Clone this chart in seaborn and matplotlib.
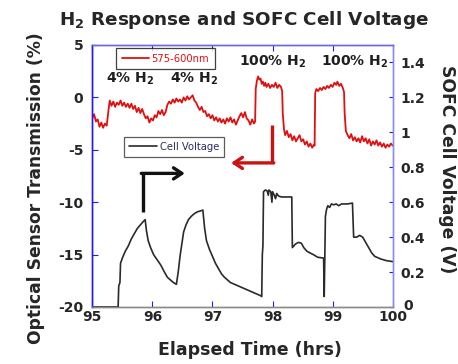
import numpy as np
import pandas as pd
import matplotlib
matplotlib.use("Agg")
import matplotlib.pyplot as plt
import matplotlib.transforms as mtransforms
import seaborn as sns
from matplotlib.lines import Line2D

# ---------------- data ----------------
red_time = [95.00, 95.03, 95.06, 95.09, 95.12, 95.15, 95.18, 95.21, 95.24, 95.27,
            95.29, 95.32, 95.35, 95.38, 95.41, 95.44, 95.47, 95.50, 95.53, 95.56,
            95.59, 95.62, 95.65, 95.68, 95.71, 95.74, 95.77, 95.80, 95.83, 95.86,
            95.89, 95.92, 95.95, 95.98, 96.01, 96.04, 96.07, 96.10, 96.13, 96.16,
            96.19, 96.22, 96.25, 96.28, 96.31, 96.34, 96.37, 96.40, 96.43, 96.46,
            96.49, 96.52, 96.55, 96.58, 96.61, 96.64, 96.67, 96.70, 96.73, 96.76,
            96.79, 96.82, 96.85, 96.88, 96.91, 96.94, 96.97, 97.00, 97.03, 97.06,
            97.09, 97.12, 97.15, 97.18, 97.21, 97.24, 97.27, 97.30, 97.33, 97.36,
            97.39, 97.42, 97.45, 97.48, 97.51, 97.54, 97.57, 97.60, 97.63, 97.66,
            97.69, 97.71, 97.72, 97.74, 97.76, 97.78, 97.80, 97.82, 97.84, 97.86,
            97.88, 97.90, 97.93, 97.96, 97.99, 98.02, 98.05, 98.08, 98.11, 98.14,
            98.16, 98.17, 98.19, 98.21, 98.24, 98.27, 98.30, 98.33, 98.36, 98.39,
            98.42, 98.45, 98.48, 98.51, 98.54, 98.57, 98.60, 98.63, 98.66, 98.69,
            98.70, 98.71, 98.73, 98.76, 98.79, 98.82, 98.85, 98.88, 98.91, 98.94,
            98.97, 99.00, 99.03, 99.06, 99.08, 99.11, 99.14, 99.17, 99.19, 99.20,
            99.22, 99.25, 99.28, 99.31, 99.34, 99.37, 99.40, 99.43, 99.46, 99.49,
            99.52, 99.55, 99.58, 99.61, 99.64, 99.67, 99.70, 99.73, 99.76, 99.79,
            99.82, 99.85, 99.88, 99.91, 99.94, 99.97, 100.00]
red_transmission = [-2.0, -1.6, -2.3, -2.1, -2.8, -2.4, -2.9, -2.5, -2.7, -1.2,
                    -0.3, -0.8, -0.4, -0.9, -0.5, -0.7, -0.3, -0.8, -0.5, -0.9,
                    -0.6, -1.0, -0.6, -1.1, -0.8, -1.4, -1.0, -1.5, -1.1, -1.6,
                    -2.0, -1.8, -2.4, -2.0, -2.2, -1.7, -1.9, -1.3, -1.6, -1.2,
                    -1.7, -1.4, -0.7, -0.4, -0.6, -0.2, -0.5, -0.1, -0.4, -0.2,
                    -0.5, 0.0, -0.3, 0.1, -0.2, 0.0, 0.2, -0.3, -0.5, -0.9,
                    -1.2, -0.9, -1.4, -1.3, -1.8, -1.6, -2.0, -1.7, -2.2, -1.9,
                    -2.3, -2.0, -2.4, -2.1, -2.5, -2.0, -2.3, -1.9, -2.4, -2.1,
                    -2.6, -2.2, -1.8, -1.5, -1.9, -1.4, -2.0, -2.2, -2.6, -2.1,
                    -2.5, -2.3, 0.8, 1.6, 2.0, 1.7, 1.8, 1.3, 1.5, 1.1,
                    1.4, 1.0, 1.3, 0.9, 1.2, 1.0, 1.4, 0.9, 1.2, 1.0,
                    0.6, -1.5, -3.0, -3.6, -3.2, -3.8, -3.5, -4.1, -3.7, -4.2,
                    -3.9, -3.6, -4.2, -4.0, -4.5, -4.2, -4.7, -4.4, -4.8, -4.5,
                    -4.6, 0.4, 0.8, 0.6, 0.9, 0.7, 1.0, 0.8, 1.1, 0.9,
                    1.2, 1.0, 1.4, 1.2, 1.5, 1.1, 1.3, 0.9, 0.5, -1.5,
                    -3.2, -3.6, -3.9, -3.5, -4.1, -3.8, -4.2, -3.9, -4.3, -3.7,
                    -4.2, -3.9, -4.4, -4.0, -4.6, -4.2, -4.5, -4.1, -4.6, -4.3,
                    -4.7, -4.4, -4.8, -4.5, -4.7, -4.4, -4.6]

volt_time = [95.00, 95.43, 95.44, 95.46, 95.47, 95.50, 95.55, 95.60, 95.65, 95.70,
             95.75, 95.80, 95.85, 95.88, 95.90, 95.93, 95.97, 96.02, 96.08, 96.14,
             96.20, 96.25, 96.30, 96.35, 96.40, 96.43, 96.46, 96.49, 96.52, 96.56,
             96.60, 96.65, 96.70, 96.75, 96.80, 96.84, 96.87, 96.90, 96.95, 97.00,
             97.05, 97.10, 97.15, 97.20, 97.30, 97.40, 97.50, 97.60, 97.70, 97.80,
             97.82, 97.83, 97.84, 97.85, 97.88, 97.91, 97.93, 97.94, 97.97, 97.99,
             98.00, 98.03, 98.05, 98.07, 98.10, 98.15, 98.20, 98.25, 98.32, 98.33,
             98.38, 98.43, 98.48, 98.52, 98.57, 98.62, 98.68, 98.75, 98.85, 98.86,
             98.87, 98.88, 98.90, 98.92, 98.95, 98.98, 99.02, 99.06, 99.10, 99.15,
             99.20, 99.25, 99.33, 99.35, 99.40, 99.45, 99.50, 99.55, 99.60, 99.65,
             99.70, 99.80, 99.90, 100.00]
cell_voltage = [0.0, 0.0, 0.12, 0.14, 0.25, 0.28, 0.32, 0.35, 0.39, 0.42,
                0.45, 0.47, 0.49, 0.50, 0.44, 0.38, 0.34, 0.30, 0.27, 0.24,
                0.20, 0.17, 0.155, 0.14, 0.13, 0.20, 0.29, 0.36, 0.43, 0.47,
                0.50, 0.52, 0.535, 0.545, 0.55, 0.555, 0.45, 0.38, 0.33, 0.29,
                0.25, 0.22, 0.19, 0.17, 0.14, 0.125, 0.11, 0.095, 0.08, 0.065,
                0.06, 0.30, 0.35, 0.66, 0.67, 0.665, 0.64, 0.67, 0.66, 0.60,
                0.66, 0.64, 0.62, 0.65, 0.635, 0.63, 0.63, 0.63, 0.63, 0.34,
                0.36, 0.37, 0.365, 0.34, 0.32, 0.31, 0.30, 0.285, 0.28, 0.06,
                0.28, 0.52, 0.56, 0.58, 0.57, 0.59, 0.585, 0.59, 0.58, 0.59,
                0.59, 0.59, 0.595, 0.40, 0.40, 0.41, 0.40, 0.37, 0.34, 0.31,
                0.29, 0.275, 0.265, 0.26]

x_ticks = [95, 96, 97, 98, 99, 100]
left_ticks = [-20, -15, -10, -5, 0, 5]
right_ticks = [0, 0.2, 0.4, 0.6, 0.8, 1, 1.2, 1.4]
right_ticklabels = ["0", "0.2", "0.4", "0.6", "0.8", "1", "1.2", "1.4"]

red_label = "575-600nm"
black_label = "Cell Voltage"
gas_labels = ["4% H$_2$", "4% H$_2$", "100% H$_2$", "100% H$_2$"]
gas_x = [95.62, 96.69, 98.01, 99.37]
gas_y = [1.37, 1.37, 3.0, 3.0]

# ---------------- style ----------------
sns.set_style("white")
plt.rcParams["font.family"] = ["DejaVu Sans"]
plt.rcParams["mathtext.fontset"] = "dejavusans"
plt.rcParams["mathtext.default"] = "bf"

red_df = pd.DataFrame({"time": red_time, "value": red_transmission})
volt_df = pd.DataFrame({"time": volt_time, "value": cell_voltage})

W, H = 458, 364
fig = plt.figure(figsize=(W / 100, H / 100), dpi=100)
fig.patch.set_facecolor("white")
ax = fig.add_axes([92.3 / W, 1 - 307 / H, 300.4 / W, 262 / H])
ax2 = ax.twinx()

sns.lineplot(data=red_df, x="time", y="value", ax=ax, color="#e01010",
             linewidth=1.3, estimator=None, sort=False, label=red_label)
sns.lineplot(data=volt_df, x="time", y="value", ax=ax2, color="#2a2a2a",
             linewidth=1.2, estimator=None, sort=False, label=black_label)

ax.set_xlim(95, 100)
ax.set_ylim(-20, 5)
ax2.set_ylim(0, 1.5)
ax.set_xticks(x_ticks)
ax.set_xticklabels([str(t) for t in x_ticks])
ax.set_yticks(left_ticks)
ax.set_yticklabels([str(t) for t in left_ticks])
ax2.set_yticks(right_ticks)
ax2.set_yticklabels(right_ticklabels)

for lab in ax.get_xticklabels() + ax.get_yticklabels() + ax2.get_yticklabels():
    lab.set_fontsize(10)
    lab.set_fontweight("bold")

ax.tick_params(axis="x", direction="in", length=4, color="#2020e0", pad=2.5,
               top=True, bottom=True)
ax.tick_params(axis="y", direction="in", length=4, color="#2020e0", pad=6.5)
ax2.tick_params(axis="y", direction="in", length=3, color="#2020e0", pad=5.5)

# nudge the right-axis "0" label so it does not collide with the "100" label
zero_lab = ax2.get_yticklabels()[0]
zero_lab.set_transform(zero_lab.get_transform() +
                       mtransforms.ScaledTranslation(3 / 100, 3 / 100, fig.dpi_scale_trans))

# spines
for a in (ax, ax2):
    a.spines["left"].set_color("#1a1aff")
    a.spines["top"].set_color("#6a6ad8")
    a.spines["right"].set_color("#8c8cf0")
    a.spines["bottom"].set_color("#8a8a8a")
    for s in a.spines.values():
        s.set_linewidth(1.0)
        s.set_visible(True)

# labels
ax.set_xlabel("Elapsed Time (hrs)", fontsize=12.5, fontweight="bold")
ax.xaxis.set_label_coords(0.525, -0.128)
ax.xaxis.label.set_va("top")
ax.set_ylabel("Optical Sensor Transmission (%)", fontsize=12.3, fontweight="bold")
ax.yaxis.set_label_coords(-0.157, 0.454)
ax2.set_ylabel("SOFC Cell Voltage (V)", fontsize=12.3, fontweight="bold",
               rotation=270, va="bottom")
ax2.yaxis.set_label_coords(1.152, 0.525)

fig.text(244 / W, 1 - 25 / H, "H$_2$ Response and SOFC Cell Voltage",
         ha="center", va="baseline", fontsize=13.2, fontweight="bold")

# gas annotations
for lab, gx, gy in zip(gas_labels, gas_x, gas_y):
    ax.text(gx, gy, lab, ha="center", va="baseline", fontsize=10,
            fontweight="bold", color="#1e1e1e")

# legends
leg1 = ax.legend(loc="upper left", bbox_to_anchor=(0.0789, 0.9885),
                 borderaxespad=0, fontsize=7.2, frameon=True, fancybox=False,
                 edgecolor="#111111", handlelength=2.7, handletextpad=0.3,
                 borderpad=0.55, labelcolor="#e01010")
leg1.get_frame().set_linewidth(0.9)
leg2 = ax2.legend(loc="upper left", bbox_to_anchor=(0.1055, 0.6489),
                  borderaxespad=0, fontsize=7.2, frameon=True, fancybox=False,
                  edgecolor="#333333", handlelength=2.8, handletextpad=0.3,
                  borderpad=0.5, labelcolor="#2b2b66")
leg2.get_frame().set_linewidth(0.9)

# arrows (axes-fraction coordinates)
ax2.add_line(Line2D([0.597, 0.597], [0.695, 0.550], transform=ax2.transAxes,
                    color="#cc1111", lw=2.4, solid_capstyle="butt", zorder=6))
ax2.annotate("", xy=(0.462, 0.550), xytext=(0.604, 0.550),
             xycoords="axes fraction", textcoords="axes fraction",
             arrowprops=dict(arrowstyle="->,head_length=0.6,head_width=0.4",
                             color="#cc1111", lw=2.4, shrinkA=0, shrinkB=0),
             zorder=6)
ax2.add_line(Line2D([0.170, 0.170], [0.364, 0.510], transform=ax2.transAxes,
                    color="#111111", lw=2.4, solid_capstyle="butt", zorder=6))
ax2.annotate("", xy=(0.308, 0.510), xytext=(0.163, 0.510),
             xycoords="axes fraction", textcoords="axes fraction",
             arrowprops=dict(arrowstyle="->,head_length=0.6,head_width=0.4",
                             color="#111111", lw=2.4, shrinkA=0, shrinkB=0),
             zorder=6)

fig.savefig("out.png", dpi=100, facecolor="white")
